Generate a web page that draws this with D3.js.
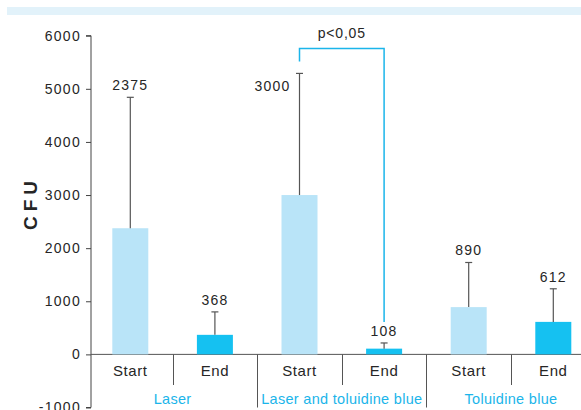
<!DOCTYPE html>
<html>
<head>
<meta charset="utf-8">
<script src="https://cdn.jsdelivr.net/npm/d3@7"></script>
<style>
  html, body { margin: 0; padding: 0; background: #fff; }
  svg { display: block; font-family: "Liberation Sans", Arial, sans-serif; }
</style>
</head>
<body>
<svg id="chart" width="581" height="410"></svg>
<script>
// CFU counts at the start and end of each treatment
const groups = ["Laser", "Laser and toluidine blue", "Toluidine blue"];
const phases = ["Start", "End"];
const means = [2375, 368, 3000, 108, 890, 612];
const upperErrors = [4840, 800, 5290, 215, 1730, 1235];
const yTicks = [-1000, 0, 1000, 2000, 3000, 4000, 5000, 6000];
const significance = { from: 2, to: 3, label: "p<0,05", level: 5760 };

const bars = means.map((v, i) => ({
  key: groups[Math.floor(i / 2)] + "|" + phases[i % 2],
  group: groups[Math.floor(i / 2)],
  phase: phases[i % 2],
  value: v,
  upper: upperErrors[i],
  index: i
}));

const svg = d3.select("#chart");
const W = 581, H = 410;

const y = d3.scaleLinear().domain([-1000, 6000]).range([407.5, 35.7]);
const x = d3.scaleBand().domain(bars.map(d => d.key)).range([88, 595.6]).padding(0);
const barW = 36;
const axisX = 91;

const lightBlue = "#b9e4f8", strongBlue = "#15c1f1", accent = "#1bb5ea";
const ink = "#262626";

// header band
svg.append("rect").attr("x", 7).attr("y", 7).attr("width", W - 7).attr("height", 8)
  .attr("fill", "#e2f2fa");

// y axis
const yAxis = d3.axisLeft(y).tickValues(yTicks).tickSize(5).tickPadding(5).tickFormat(d3.format("d"));
const ya = svg.append("g").attr("transform", `translate(${axisX},0)`).call(yAxis);
ya.select(".domain").attr("stroke", "#444").attr("d", `M-5,${y(6000)}H0V${y(-1000)}H-5`);
ya.selectAll(".tick line").attr("stroke", "#444");
ya.selectAll(".tick text").attr("fill", ink).attr("font-size", 14).attr("letter-spacing", 1.3)
  .text(d => d < 0 ? "-" + Math.abs(d) : d);

// axis title
svg.append("text")
  .attr("transform", `translate(37,${y(2850)}) rotate(-90)`)
  .attr("text-anchor", "middle")
  .attr("font-size", 19).attr("font-weight", "bold").attr("letter-spacing", 5)
  .attr("fill", ink)
  .text("CFU");

// baseline
svg.append("line").attr("x1", axisX).attr("x2", W).attr("y1", y(0)).attr("y2", y(0))
  .attr("stroke", "#555").attr("stroke-width", 1);

// category dividers below the baseline
const boundaries = bars.slice(1).map(d => ({ x: x(d.key), groupEdge: d.phase === "Start" }));
svg.append("g").selectAll("line").data(boundaries).join("line")
  .attr("x1", d => Math.round(d.x) + 0.5).attr("x2", d => Math.round(d.x) + 0.5)
  .attr("y1", y(0)).attr("y2", d => d.groupEdge ? y(-1000) : 385)
  .attr("stroke", "#555").attr("stroke-width", 1);

// phase labels
svg.append("g").selectAll("text").data(bars).join("text")
  .attr("x", d => x(d.key) + x.bandwidth() / 2)
  .attr("y", 376)
  .attr("text-anchor", "middle")
  .attr("font-size", 15).attr("letter-spacing", 0.6).attr("fill", ink)
  .text(d => d.phase);

// group labels
svg.append("g").selectAll("text").data(groups).join("text")
  .attr("x", g => {
    const ks = bars.filter(b => b.group === g).map(b => x(b.key));
    return (d3.min(ks) + d3.max(ks) + x.bandwidth()) / 2;
  })
  .attr("y", 404)
  .attr("text-anchor", "middle")
  .attr("font-size", 14.5).attr("letter-spacing", 0.3).attr("fill", accent)
  .text(g => g);

// bars
const cx = d => x(d.key) + x.bandwidth() / 2;
svg.append("g").selectAll("rect").data(bars).join("rect")
  .attr("x", d => cx(d) - barW / 2)
  .attr("y", d => y(d.value))
  .attr("width", barW)
  .attr("height", d => y(0) - y(d.value))
  .attr("fill", d => d.phase === "Start" ? lightBlue : strongBlue);

// error bars
const eb = svg.append("g").attr("stroke", "#555").attr("stroke-width", 1.2);
eb.selectAll("line.stem").data(bars).join("line").attr("class", "stem")
  .attr("x1", cx).attr("x2", cx)
  .attr("y1", d => y(d.value)).attr("y2", d => y(d.upper));
eb.selectAll("line.cap").data(bars).join("line").attr("class", "cap")
  .attr("x1", d => cx(d) - 3.5).attr("x2", d => cx(d) + 3.5)
  .attr("y1", d => y(d.upper)).attr("y2", d => y(d.upper));

// value labels
svg.append("g").selectAll("text").data(bars).join("text")
  .attr("x", d => d.index === significance.from ? cx(d) - 27 : cx(d))
  .attr("y", d => d.index === significance.from ? y(d.upper) + 18 : y(d.upper) - 7)
  .attr("text-anchor", "middle")
  .attr("font-size", 14).attr("letter-spacing", 1.2).attr("fill", ink)
  .text(d => d.value);

// significance bracket
const bFrom = bars[significance.from], bTo = bars[significance.to];
const by = y(significance.level);
const bracket = svg.append("g").attr("fill", "none").attr("stroke-width", 1.5);
bracket.append("path")
  .attr("d", `M${cx(bFrom)},${by + 13}V${by}H${cx(bTo)}V${y(bTo.upper) - 21}`)
  .attr("stroke", accent);
svg.append("text")
  .attr("x", (cx(bFrom) + cx(bTo)) / 2)
  .attr("y", by - 10)
  .attr("text-anchor", "middle")
  .attr("font-size", 14).attr("letter-spacing", 0.8).attr("fill", ink)
  .text(significance.label);
</script>
</body>
</html>
